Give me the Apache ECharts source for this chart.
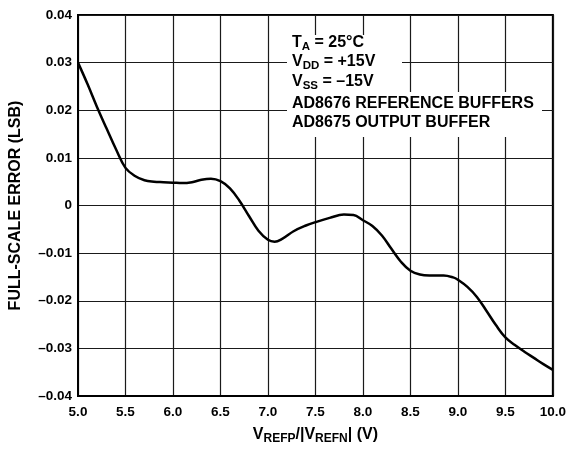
<!DOCTYPE html>
<html>
<head>
<meta charset="utf-8">
<script src="https://cdn.jsdelivr.net/npm/echarts@6/dist/echarts.min.js"></script>
<style>
html,body{margin:0;padding:0;background:#fff;}
#c{width:569px;height:450px;}
</style>
</head>
<body>
<div id="c"></div>
<script>
// Data
const vRef = [5.0,5.1,5.2,5.3,5.4,5.5,5.6,5.7,5.8,5.9,6.0,6.1,6.2,6.3,6.4,6.5,6.6,6.7,6.8,6.9,7.0,7.07,7.15,7.27,7.4,7.5,7.65,7.8,7.9,8.0,8.1,8.2,8.3,8.4,8.5,8.6,8.7,8.85,8.95,9.0,9.1,9.2,9.3,9.4,9.5,9.6,9.7,9.8,9.9,10.0];
const fsError = [0.030,0.0255,0.0207,0.0162,0.0118,0.0079,0.0062,0.0053,0.0050,0.0049,0.0048,0.0047,0.0049,0.0054,0.0056,0.0051,0.0036,0.0010,-0.0022,-0.0053,-0.0072,-0.0076,-0.0070,-0.0054,-0.0042,-0.0035,-0.0026,-0.0019,-0.0020,-0.0031,-0.0043,-0.0063,-0.0091,-0.0118,-0.0137,-0.0145,-0.0147,-0.0147,-0.0151,-0.0156,-0.0171,-0.0192,-0.0221,-0.0251,-0.0277,-0.0293,-0.0307,-0.0320,-0.0333,-0.0345];
const xTicks = [5.0,5.5,6.0,6.5,7.0,7.5,8.0,8.5,9.0,9.5,10.0];
const yTicks = [-0.04,-0.03,-0.02,-0.01,0,0.01,0.02,0.03,0.04];
const annotationLines = [
  [['T','m'],['A','s'],[' = 25°C','m']],
  [['V','m'],['DD','s'],[' = +15V','m']],
  [['V','m'],['SS','s'],[' = –15V','m']],
  [['AD8676 REFERENCE BUFFERS','m']],
  [['AD8675 OUTPUT BUFFER','m']]
];

const FONT = '"Liberation Sans", Arial, Helvetica, sans-serif';
const chart = echarts.init(document.getElementById('c'), null, {renderer:'canvas'});

const richBase = {
  m: {fontFamily: FONT, fontWeight: 'bold', fontSize: 16, lineHeight: 20, color: '#000', verticalAlign: 'middle'},
  s: {fontFamily: FONT, fontWeight: 'bold', fontSize: 11.5, lineHeight: 11, color: '#000', verticalAlign: 'bottom'}
};
const richAxis = {
  m: {fontFamily: FONT, fontWeight: 'bold', fontSize: 16, lineHeight: 20, color: '#000', verticalAlign: 'middle'},
  s: {fontFamily: FONT, fontWeight: 'bold', fontSize: 12, lineHeight: 11, color: '#000', verticalAlign: 'bottom'}
};

function toRich(parts){ return parts.map(p => '{' + p[1] + '|' + p[0] + '}').join(''); }

const lineY = [45, 64, 84, 106, 125];
const graphics = [
  {type:'rect', shape:{x:287, y:35, width:115, height:58}, style:{fill:'#fff'}, z:50},
  {type:'rect', shape:{x:287, y:92, width:255, height:45}, style:{fill:'#fff'}, z:50}
];
annotationLines.forEach((ln, i) => {
  graphics.push({type:'text', left: 292, top: lineY[i] - 10, z: 60,
    style:{text: toRich(ln), rich: richBase, fill:'#000'}});
});

const fmtY = v => {
  const r = Math.round(v*100)/100;
  if (r === 0) return '0';
  const s = Math.abs(r).toFixed(2);
  return r < 0 ? '–' + s : s;
};

chart.setOption({
  animation: false,
  backgroundColor: '#fff',
  grid: {left: 76, right: 15, top: 15, bottom: 53, show: true, borderColor: '#000', borderWidth: 2, backgroundColor: 'transparent'},
  xAxis: {
    type: 'value', min: xTicks[0], max: xTicks[xTicks.length-1], interval: 0.5,
    axisLine: {show: true, onZero: false, lineStyle: {color: '#000', width: 2}},
    axisTick: {show: false},
    splitLine: {show: true, lineStyle: {color: '#1a1a1a', width: 1.2}},
    axisLabel: {fontFamily: FONT, fontWeight: 'bold', fontSize: 13.5, color: '#000', margin: 9,
      formatter: v => v.toFixed(1)},
    name: toRich([['V','m'],['REFP','s'],['/|V','m'],['REFN','s'],['| (V)','m']]),
    nameLocation: 'middle', nameGap: 29,
    nameTextStyle: {rich: richAxis}
  },
  yAxis: {
    type: 'value', min: yTicks[0], max: yTicks[yTicks.length-1], interval: 0.01,
    axisLine: {show: true, onZero: false, lineStyle: {color: '#000', width: 2}},
    axisTick: {show: false},
    splitLine: {show: true, lineStyle: {color: '#1a1a1a', width: 1.2}},
    axisLabel: {fontFamily: FONT, fontWeight: 'bold', fontSize: 13.5, color: '#000', margin: 6, formatter: fmtY},
    name: 'FULL-SCALE ERROR (LSB)', nameLocation: 'middle', nameGap: 54,
    nameTextStyle: {fontFamily: FONT, fontWeight: 'bold', fontSize: 16, color: '#000'}
  },
  series: [{
    type: 'line', data: vRef.map((x, i) => [x, fsError[i]]),
    smooth: 0.4, showSymbol: false, symbol: 'none',
    lineStyle: {color: '#000', width: 2.5}, z: 10
  }],
  graphic: graphics
});
</script>
</body>
</html>
